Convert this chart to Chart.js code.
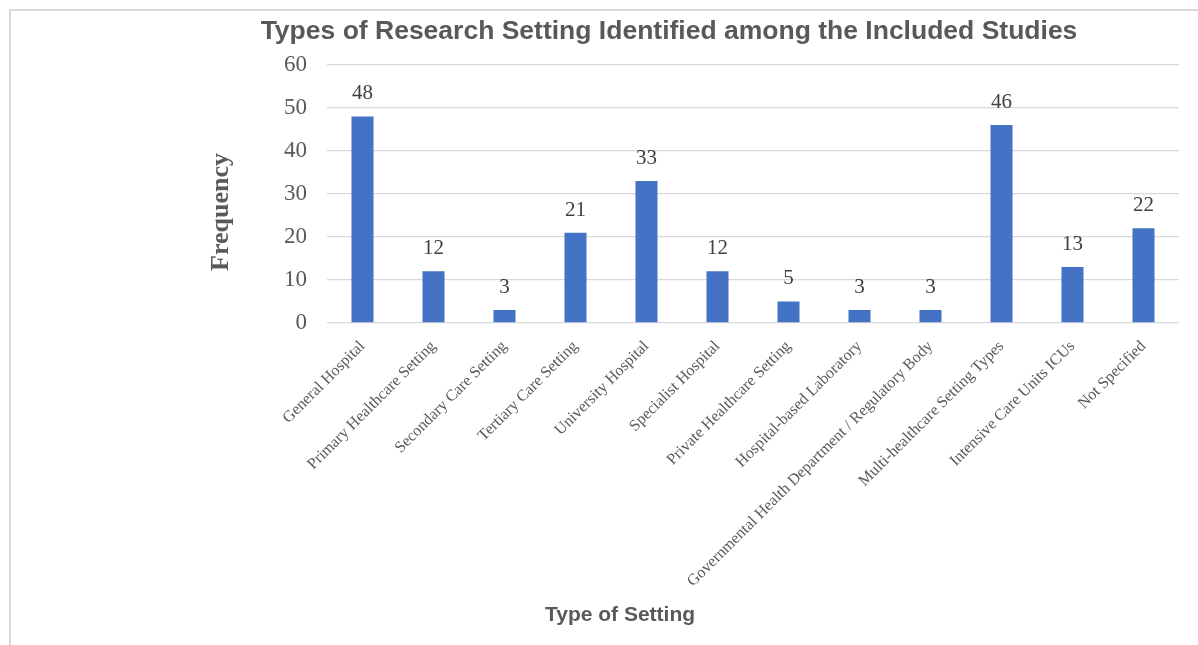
<!DOCTYPE html>
<html>
<head>
<meta charset="utf-8">
<script src="https://cdn.jsdelivr.net/npm/chart.js@4/dist/chart.umd.min.js"></script>
<style>
  html, body { margin: 0; padding: 0; background: #fff; overflow: hidden; }
  body { width: 1198px; height: 645px; position: relative; }
  .frame {
    position: absolute; left: 9px; top: 9px; width: 1320px; height: 700px;
    border: 2px solid #d9d9d9; box-sizing: border-box;
  }
  .wrap { position: absolute; left: 10px; top: 10px; width: 1318px; height: 635px; }
  .ytitle {
    position: absolute; left: 220px; top: 212px;
    transform: translate(-50%, -50%) rotate(-90deg);
    font: bold 26px "Liberation Serif", "Times New Roman", serif; color: #595959;
    white-space: nowrap;
  }
  .xtitle {
    position: absolute; left: 620px; top: 614px;
    transform: translate(-50%, -50%);
    font: bold 21px "Liberation Sans", Arial, sans-serif; color: #595959;
    white-space: nowrap;
  }
</style>
</head>
<body>
<div class="frame"></div>
<div class="wrap"><canvas id="chart"></canvas></div>
<div class="ytitle">Frequency</div>
<div class="xtitle">Type of Setting</div>
<script>
var categories = [
  'General Hospital',
  'Primary Healthcare Setting',
  'Secondary Care Setting',
  'Tertiary Care Setting',
  'University Hospital',
  'Specialist Hospital',
  'Private Healthcare Setting',
  'Hospital-based Laboratory',
  'Governmental Health Department / Regulatory Body',
  'Multi-healthcare Setting Types',
  'Intensive Care Units ICUs',
  'Not Specified'
]
var frequency = [48, 12, 3, 21, 33, 12, 5, 3, 3, 46, 13, 22]
var yTicks = [0, 10, 20, 30, 40, 50, 60]

// write the value above every bar
var valueLabels = {
  id: 'valueLabels',
  afterDatasetsDraw: function (chart) {
    var ctx = chart.ctx
    var meta = chart.getDatasetMeta(0)
    ctx.save()
    ctx.font = '21px "Liberation Serif", "Times New Roman", serif'
    ctx.fillStyle = '#404040'
    ctx.textAlign = 'center'
    ctx.textBaseline = 'bottom'
    meta.data.forEach(function (bar, i) {
      ctx.fillText(String(frequency[i]), bar.x, bar.y - 12)
    })
    ctx.restore()
  }
}

var chart = new Chart(document.getElementById('chart'), {
  type: 'bar',
  data: {
    labels: categories,
    datasets: [{
      data: frequency,
      backgroundColor: '#4472C4',
      barPercentage: 0.62,
      categoryPercentage: 0.5
    }]
  },
  options: {
    responsive: true,
    maintainAspectRatio: false,
    animation: false,
    layout: { padding: 0 },
    plugins: {
      legend: { display: false },
      tooltip: { enabled: false },
      title: {
        display: true,
        text: 'Types of Research Setting Identified among the Included Studies',
        color: '#595959',
        font: { family: '"Liberation Sans", Arial, sans-serif', size: 26.5, weight: 'bold' },
        padding: { top: 6, bottom: 17 }
      }
    },
    scales: {
      x: {
        grid: { display: false },
        border: { display: false },
        ticks: {
          autoSkip: false,
          minRotation: 45,
          maxRotation: 45,
          padding: 6,
          color: '#595959',
          font: { family: '"Liberation Serif", "Times New Roman", serif', size: 16 }
        },
        afterFit: function (scale) { scale.height = 322 }
      },
      y: {
        min: 0,
        max: 60,
        afterBuildTicks: function (scale) {
          scale.ticks = yTicks.map(function (v) { return { value: v } })
        },
        grid: { color: '#d9d9d9', lineWidth: 1.3, drawTicks: false },
        border: { display: false },
        ticks: {
          padding: 20,
          color: '#595959',
          font: { family: '"Liberation Serif", "Times New Roman", serif', size: 23 }
        },
        afterFit: function (scale) { scale.width = 317 }
      },
      // empty right-hand axis, only keeps the space right of the plot
      yRight: {
        position: 'right',
        grid: { display: false },
        border: { display: false },
        ticks: { display: false },
        afterFit: function (scale) { scale.width = 149 }
      }
    }
  },
  plugins: [valueLabels]
})
</script>
</body>
</html>
